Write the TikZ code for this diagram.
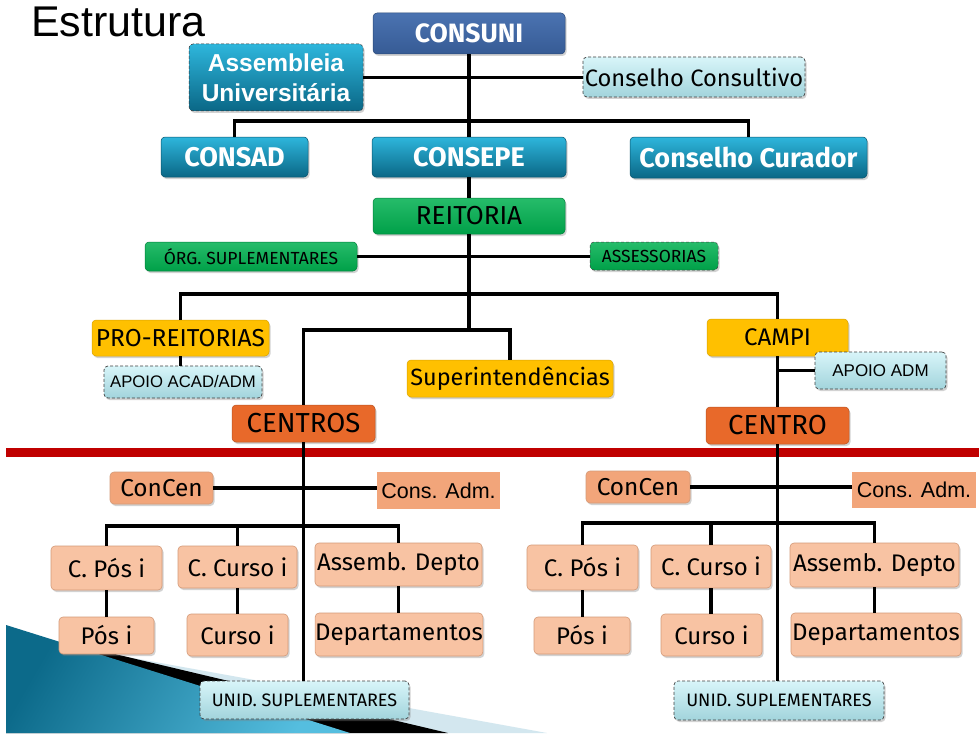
\documentclass[tikz,border=0pt]{standalone}
\usepackage{fontspec}
\setmainfont{Fira Sans}
\newfontfamily\arialf{Liberation Sans}
\usetikzlibrary{shadows}
\definecolor{tealT}{HTML}{2EB6DC}
\definecolor{tealB}{HTML}{0A6786}
\definecolor{navyT}{HTML}{4B73B1}
\definecolor{navyB}{HTML}{365B95}
\definecolor{grn}{HTML}{00B050}
\definecolor{grnB}{HTML}{00A048}
\definecolor{yel}{HTML}{FFC000}
\definecolor{orn}{HTML}{E8692A}
\definecolor{salm}{HTML}{F8C3A3}
\definecolor{salmD}{HTML}{F2A57A}
\definecolor{salmE}{HTML}{D49A78}
\definecolor{cyT}{HTML}{D8F5F9}
\definecolor{cyB}{HTML}{A2D4DC}
\definecolor{redl}{HTML}{C00000}
\definecolor{lblue}{HTML}{D3E7EF}
\definecolor{bluD}{HTML}{0C6A8A}
\definecolor{bluL}{HTML}{55BEDF}
\newcommand{\myfs}[1]{\fontsize{#1}{#1}\selectfont}
\tikzset{
  boxbase/.style={rounded corners=4pt, inner sep=0pt, align=center,
    drop shadow={shadow xshift=1.5pt, shadow yshift=-2pt, opacity=0.35}},
  tealbox/.style={boxbase, top color=tealT, bottom color=tealB, draw=tealB!80!black, line width=0.5pt, text=white, font=\bfseries\myfs{27}},
  navybox/.style={boxbase, top color=navyT, bottom color=navyB, draw=navyB!80!black, line width=0.5pt, text=white, font=\bfseries\myfs{26.5}},
  greenbox/.style={boxbase, top color=grn!85!white, bottom color=grnB, draw=grnB!80!black, line width=0.5pt, text=black},
  yellowbox/.style={boxbase, fill=yel, draw=yel!85!black, line width=0.5pt, text=black, font=\myfs{23.5}},
  orangebox/.style={boxbase, fill=orn, draw=orn!80!black, line width=0.5pt, text=black, font=\myfs{27.5}},
  salmbox/.style={boxbase, fill=salm, draw=salmE, line width=0.6pt, text=black, font=\myfs{24}},
  concenbox/.style={boxbase, fill=salmD, draw=salmE, line width=0.6pt, text=black, font=\myfs{24.4}},
  admbox/.style={inner sep=0pt, fill=salmD, text=black, font=\arialf\myfs{21.5}},
  cyanbox/.style={boxbase, top color=cyT, bottom color=cyB, draw=black!75, dash pattern=on 3pt off 2pt, line width=0.7pt, text=black},
  conn/.style={line width=3.6pt, black},
}
\begin{document}
\begin{tikzpicture}[x=1pt,y=-1pt]
\useasboundingbox (0,0) rectangle (979,733);
\fill[white] (0,0) rectangle (979,733);
% background decoration
\fill[lblue] (60,641) -- (100,652) -- (547,733) -- (6,733) -- cycle;
\fill[black] (60,641) -- (448,733) -- (6,733) -- cycle;
\shade[left color=bluD, right color=bluL, shading angle=60] (6,625) -- (350,733) -- (6,733) -- cycle;
% title
\node[anchor=west, inner sep=0pt, font=\arialf\myfs{43}] (title) at (31,22) {Estrutura};
% red line
\fill[redl] (6,448) rectangle (979,457);

% coordinates
\coordinate (c121) at (469,121);
\coordinate (c294) at (469,294);
\coordinate (c330) at (469,330);
\coordinate (h1) at (304,526);
\coordinate (h2) at (778,523);

% nodes
\node[navybox, minimum width=192pt, minimum height=41pt] (consuni) at (469,33.5) {CONSUNI};
\node[tealbox, dash pattern=on 3pt off 2pt, draw=black!80, minimum width=174pt, minimum height=67pt, font=\arialf\bfseries\myfs{24.5}] (assemb) at (276,77.5) {Assembleia\\[5pt]Universitária};
\node[cyanbox, minimum width=222pt, minimum height=40pt, font=\myfs{23.7}] (conscons) at (694,77) {Conselho Consultivo};
\node[tealbox, minimum width=147pt, minimum height=40pt] (consad) at (234.5,157) {CONSAD};
\node[tealbox, minimum width=194pt, minimum height=40pt] (consepe) at (469,157) {CONSEPE};
\node[tealbox, minimum width=237pt, minimum height=41pt] (curador) at (748.5,157.5) {Conselho Curador};
\node[greenbox, minimum width=192pt, minimum height=36pt, font=\myfs{26}] (reitoria) at (469,216) {REITORIA};
\node[greenbox, minimum width=212pt, minimum height=29pt, font=\myfs{17.5}] (org) at (251,256.5) {ÓRG. SUPLEMENTARES};
\node[greenbox, dash pattern=on 3pt off 2pt, draw=black!75, minimum width=128pt, minimum height=28pt, font=\myfs{17.5}] (assess) at (654,256) {ASSESSORIAS};
\node[yellowbox, minimum width=177pt, minimum height=36pt, font=\myfs{24.5}] (pro) at (180.5,338) {PRO-REITORIAS};
\node[cyanbox, minimum width=158pt, minimum height=32pt, font=\arialf\myfs{16.7}] (apoio1) at (183,382) {APOIO ACAD/ADM};
\node[yellowbox, minimum width=206pt, minimum height=37pt] (super) at (510,378.5) {Superintendências};
\node[orangebox, minimum width=143pt, minimum height=37pt] (centros) at (303.5,423.5) {CENTROS};
\node[yellowbox, minimum width=141pt, minimum height=37pt, font=\myfs{24}] (campi) at (777.5,337.5) {CAMPI};
\node[cyanbox, minimum width=131pt, minimum height=37pt, font=\arialf\myfs{17}] (apoio2) at (880.5,370.5) {APOIO ADM};
\node[orangebox, minimum width=143pt, minimum height=37pt] (centro) at (777.5,425.5) {CENTRO};

% left lower tree
\node[concenbox, minimum width=103pt, minimum height=32pt] (concen1) at (161.5,488) {ConCen};
\node[admbox, minimum width=123pt, minimum height=37pt] (adm1) at (438.5,490.5) {Cons. Adm.};
\node[salmbox, minimum width=111pt, minimum height=44pt] (cpos1) at (106.5,568) {C. Pós i};
\node[salmbox, minimum width=119pt, minimum height=42pt] (ccurso1) at (237.5,567) {C. Curso i};
\node[salmbox, minimum width=167pt, minimum height=43pt] (asd1) at (398.5,564.5) {Assemb. Depto};
\node[salmbox, minimum width=95pt, minimum height=37pt] (pos1) at (106.5,635.5) {Pós i};
\node[salmbox, minimum width=101pt, minimum height=42pt] (curso1) at (237.5,635) {Curso i};
\node[salmbox, minimum width=166pt, minimum height=43pt] (dep1) at (399,634.5) {Departamentos};
\node[cyanbox, minimum width=209pt, minimum height=38pt, font=\myfs{18}] (unid1) at (304.5,700) {UNID. SUPLEMENTARES};

% right lower tree
\node[concenbox, minimum width=104pt, minimum height=32pt] (concen2) at (638,487) {ConCen};
\node[admbox, minimum width=124pt, minimum height=36pt] (adm2) at (914,490) {Cons. Adm.};
\node[salmbox, minimum width=111pt, minimum height=45pt] (cpos2) at (582.5,567.5) {C. Pós i};
\node[salmbox, minimum width=120pt, minimum height=43pt] (ccurso2) at (711,566.5) {C. Curso i};
\node[salmbox, minimum width=169pt, minimum height=44pt] (asd2) at (874.5,565) {Assemb. Depto};
\node[salmbox, minimum width=96pt, minimum height=37pt] (pos2) at (582,635.5) {Pós i};
\node[salmbox, minimum width=101pt, minimum height=42pt] (curso2) at (711.5,635) {Curso i};
\node[salmbox, minimum width=170pt, minimum height=43pt] (dep2) at (876,634.5) {Departamentos};
\node[cyanbox, minimum width=210pt, minimum height=39pt, font=\myfs{18}] (unid2) at (779,700.5) {UNID. SUPLEMENTARES};

% connectors
\begin{scope}[conn]
\draw (consuni.south) -- (consepe.north);
\draw (consepe.south) -- (reitoria.north);
\draw (reitoria.south) -- (c330);
\draw (assemb.east) -- (assemb.east -| conscons.west);
\draw (consad.north) |- (c121) -| (curador.north);
\draw (org.east) -- (org.east -| assess.west);
\draw (pro.north) |- (c294) -| (campi.north);
\draw (pro.south) -- (pro.south |- apoio1.north);
\draw (centros.north) |- (c330) -| (super.north);
\draw (campi.south) -- (centro.north);
\draw (apoio2.west) -- (apoio2.west -| campi.south);
% lower left
\draw (centros.south) -- (centros.south |- unid1.north);
\draw (concen1.east) -- (concen1.east -| adm1.west);
\draw (cpos1.north) |- (h1) -| (asd1.north);
\draw (ccurso1.north) -- (ccurso1.north |- h1);
\draw (cpos1.south) -- (pos1.north);
\draw (ccurso1.south) -- (curso1.north);
\draw (asd1.south) -- (asd1.south |- dep1.north);
% lower right
\draw (centro.south) -- (centro.south |- unid2.north);
\draw (concen2.east) -- (concen2.east -| adm2.west);
\draw (cpos2.north) |- (h2) -| (asd2.north);
\draw (ccurso2.north) -- (ccurso2.north |- h2);
\draw (cpos2.south) -- (cpos2.south |- pos2.north);
\draw (ccurso2.south) -- (ccurso2.south |- curso2.north);
\draw (asd2.south) -- (asd2.south |- dep2.north);
\end{scope}
\end{tikzpicture}
\end{document}
